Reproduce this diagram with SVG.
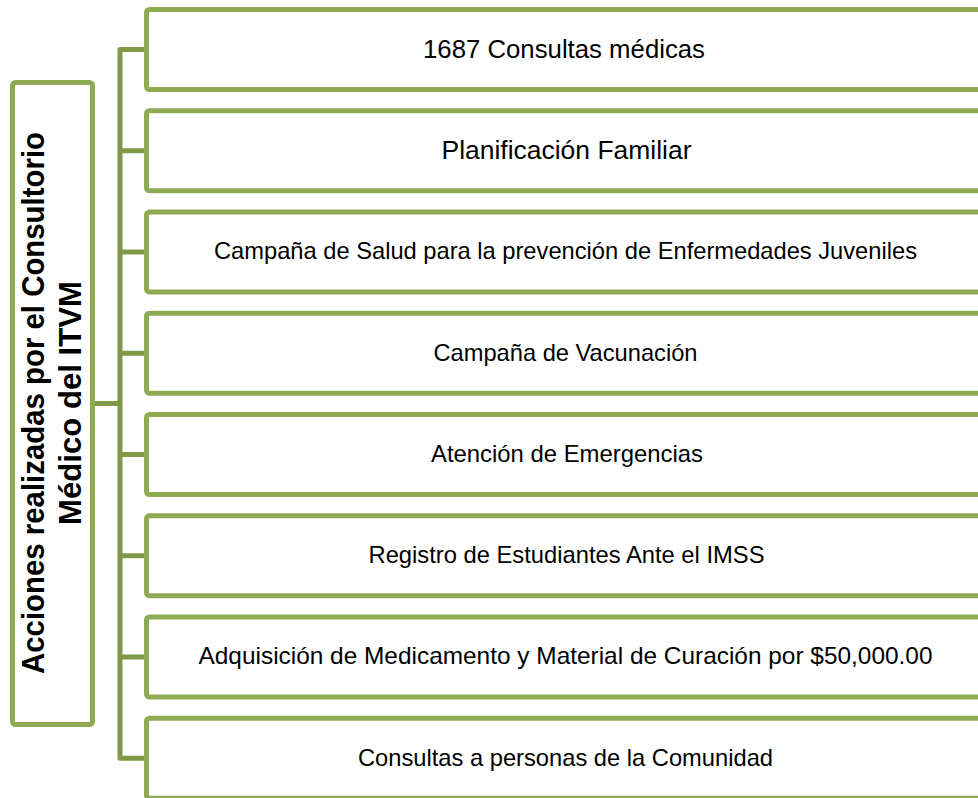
<svg xmlns="http://www.w3.org/2000/svg" width="978" height="798" viewBox="0 0 978 798">
<style>
.box{fill:#fff;stroke:#8FAB52;stroke-width:5}
.conn{fill:none;stroke:#7E9A48;stroke-width:5;stroke-linejoin:round}
.t{font-family:"Liberation Sans",Arial,sans-serif;font-size:23.8px;fill:#000;text-anchor:middle}
.t1{font-size:25.8px}
.tb{font-family:"Liberation Sans",Arial,sans-serif;font-size:30.5px;font-weight:bold;fill:#000;text-anchor:middle}
</style>
<rect width="978" height="798" fill="#fff"/>
<g id="connectors">
<path class="conn" d="M146.5,49.5 H120 V758.25 H146.5"/>
<path class="conn" d="M120,150.75 H146.5 M120,252 H146.5 M120,353.25 H146.5 M120,454.5 H146.5 M120,555.75 H146.5 M120,657 H146.5"/>
<path class="conn" d="M95,403.5 H120"/>
</g>
<g id="root">
<rect class="box" x="12.5" y="82.5" width="80" height="642" rx="3"/>
<text class="tb" transform="translate(43.5,403) rotate(-90)" textLength="542" lengthAdjust="spacingAndGlyphs">Acciones realizadas por el Consultorio</text>
<text class="tb" transform="translate(81,403) rotate(-90)" textLength="244" lengthAdjust="spacingAndGlyphs">Médico del ITVM</text>
</g>
<g id="n1">
<rect class="box" x="146.5" y="9.5" width="850" height="80" rx="3"/>
<text class="t t1" x="564" y="57.5" textLength="282" lengthAdjust="spacingAndGlyphs">1687 Consultas médicas</text>
</g>
<g id="n2">
<rect class="box" x="146.5" y="110.75" width="850" height="80" rx="3"/>
<text class="t t1" x="566.5" y="159" textLength="250" lengthAdjust="spacingAndGlyphs">Planificación Familiar</text>
</g>
<g id="n3">
<rect class="box" x="146.5" y="212" width="850" height="80" rx="3"/>
<text class="t" x="565.5" y="258.5" textLength="703" lengthAdjust="spacingAndGlyphs">Campaña de Salud para la prevención de Enfermedades Juveniles</text>
</g>
<g id="n4">
<rect class="box" x="146.5" y="313.25" width="850" height="80" rx="3"/>
<text class="t" x="565.5" y="360.5" textLength="264" lengthAdjust="spacingAndGlyphs">Campaña de Vacunación</text>
</g>
<g id="n5">
<rect class="box" x="146.5" y="414.5" width="850" height="80" rx="3"/>
<text class="t" x="567" y="461.5" textLength="272" lengthAdjust="spacingAndGlyphs">Atención de Emergencias</text>
</g>
<g id="n6">
<rect class="box" x="146.5" y="515.75" width="850" height="80" rx="3"/>
<text class="t" x="566.5" y="563" textLength="396" lengthAdjust="spacingAndGlyphs">Registro de Estudiantes Ante el IMSS</text>
</g>
<g id="n7">
<rect class="box" x="146.5" y="617" width="850" height="80" rx="3"/>
<text class="t" x="565.5" y="664.3" textLength="734" lengthAdjust="spacingAndGlyphs">Adquisición de Medicamento y Material de Curación por $50,000.00</text>
</g>
<g id="n8">
<rect class="box" x="146.5" y="718.25" width="850" height="80" rx="3"/>
<text class="t" x="565.5" y="765.5" textLength="415" lengthAdjust="spacingAndGlyphs">Consultas a personas de la Comunidad</text>
</g>
</svg>
